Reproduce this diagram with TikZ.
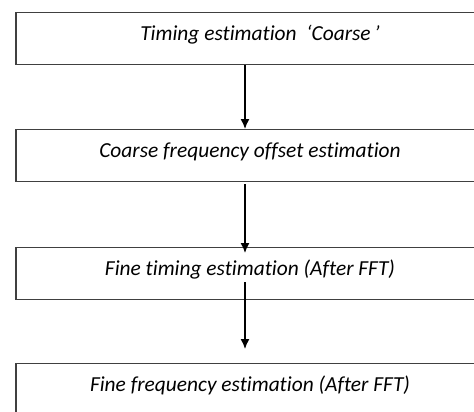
\documentclass[tikz,border=0pt]{standalone}
\usepackage{fontspec}
\setmainfont[Ligatures=NoCommon]{Carlito}
\usetikzlibrary{calc}
\usetikzlibrary{arrows.meta}

\begin{document}
\begin{tikzpicture}[x=1pt,y=1pt,
  stage/.style={draw=black!75,line width=1.1pt,rectangle,anchor=north,
    minimum width=468pt,inner xsep=0pt,inner ysep=12pt,
    text height=16pt,text depth=12pt,
    font=\fontsize{21.4}{25}\selectfont\itshape},
  flow/.style={line width=1.4pt,-{Latex[length=10pt,width=9pt]}}]
\clip (0,0) rectangle (474,-412);
\node[stage] (s1) at (250,-12) {\hspace*{20pt}Timing estimation\ \ `Coarse\,'};
\node[stage] (s2) at (250,-129) {Coarse frequency offset estimation};
\node[stage] (s3) at (250,-247) {Fine timing estimation (After FFT)};
\node[stage] (s4) at (250,-363) {Fine frequency estimation (After FFT)};
\coordinate (ax) at (245,0);

\draw[flow] (s1.south -| ax) -- (s2.north -| ax);
\draw[flow] ($(s2.south -| ax) + (0,-2)$) -- ($(s3.north -| ax) + (0,-6)$);
\draw[flow] ($(s3.south -| ax) + (0,18)$) -- ($(s4.north -| ax) + (0,14)$);
\end{tikzpicture}
\end{document}
